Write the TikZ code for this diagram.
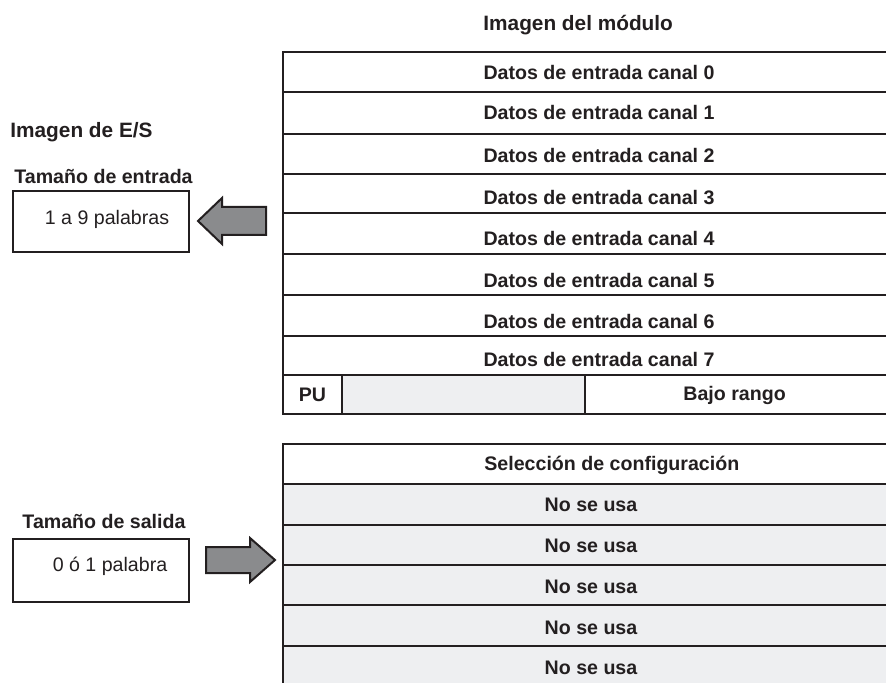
\documentclass[tikz,border=0pt]{standalone}
\usepackage{fontspec}
\setmainfont{Liberation Sans}
\definecolor{ink}{HTML}{231F20}
\definecolor{cellgray}{HTML}{EEEFF1}
\definecolor{arrowgray}{HTML}{8A8B8D}

\begin{document}
\begin{tikzpicture}[x=0.5pt,y=-0.5pt,
  lbl/.style={font=\bfseries\fontsize{9.8}{11}\selectfont,text=ink,inner sep=0pt},
  head/.style={font=\bfseries\fontsize{10.4}{12}\selectfont,text=ink,inner sep=0pt},
  txt/.style={font=\fontsize{9.8}{11}\selectfont,text=ink,inner sep=0pt},
  rule/.style={draw=ink,line width=1pt},
  blockarrow/.style={draw=ink,fill=arrowgray,line width=1pt,line join=miter}]
\useasboundingbox (0,0) rectangle (886,683);

% imagen del modulo, entradas
\node[head,anchor=west] (titmod) at (483,25) {Imagen del módulo};
\fill[cellgray] (342,375) rectangle (585,414);
\draw[rule] (900,52.5) -- (283,52.5) -- (283,414) -- (900,414);
\foreach \y in {92.5,134,174,213,254,295,336,375}
  \draw[rule] (283,\y) -- (900,\y);
\draw[rule] (342,375) -- (342,414);
\draw[rule] (585,375) -- (585,414);

\node[lbl] (in0) at (599,72) {Datos de entrada canal 0};
\node[lbl] (in1) at (599,113) {Datos de entrada canal 1};
\node[lbl] (in2) at (599,155) {Datos de entrada canal 2};
\node[lbl] (in3) at (599,198) {Datos de entrada canal 3};
\node[lbl] (in4) at (599,238) {Datos de entrada canal 4};
\node[lbl] (in5) at (599,280) {Datos de entrada canal 5};
\node[lbl] (in6) at (599,321) {Datos de entrada canal 6};
\node[lbl] (in7) at (599,359) {Datos de entrada canal 7};
\node[lbl] (pu) at (312.5,395) {PU};
\node[lbl,anchor=west] (bajo) at (683,395) {Bajo rango};

% imagen del modulo, salidas
\fill[cellgray] (283,484) rectangle (900,690);
\draw[rule] (900,444) -- (283,444) -- (283,690);
\foreach \y in {484,525,565,605,646}
  \draw[rule] (283,\y) -- (900,\y);

\node[lbl,anchor=west] (conf) at (484,465) {Selección de configuración};
\node[lbl] (nu1) at (591,505) {No se usa};
\node[lbl] (nu2) at (591,546) {No se usa};
\node[lbl] (nu3) at (591,587) {No se usa};
\node[lbl] (nu4) at (591,628) {No se usa};
\node[lbl] (nu5) at (591,668) {No se usa};

% imagen de E/S
\node[head,anchor=west] (tites) at (10,132) {Imagen de E/S};
\node[lbl,anchor=west] (tament) at (14,176) {Tamaño de entrada};
\draw[rule] (13,191) rectangle (189,252);
\node[txt] (palent) at (107,219) {1 a 9 palabras};
\draw[blockarrow] (266,207) -- (222,207) -- (222,198) -- (198,221)
  -- (222,244) -- (222,235) -- (266,235) -- cycle;

\node[lbl] (tamsal) at (104,521) {Tamaño de salida};
\draw[rule] (13,539) rectangle (189,602);
\node[txt] (palsal) at (110,566) {0 ó 1 palabra};
\draw[blockarrow] (206,547) -- (250,547) -- (250,538) -- (275,560)
  -- (250,582) -- (250,573) -- (206,573) -- cycle;
\end{tikzpicture}
\end{document}
